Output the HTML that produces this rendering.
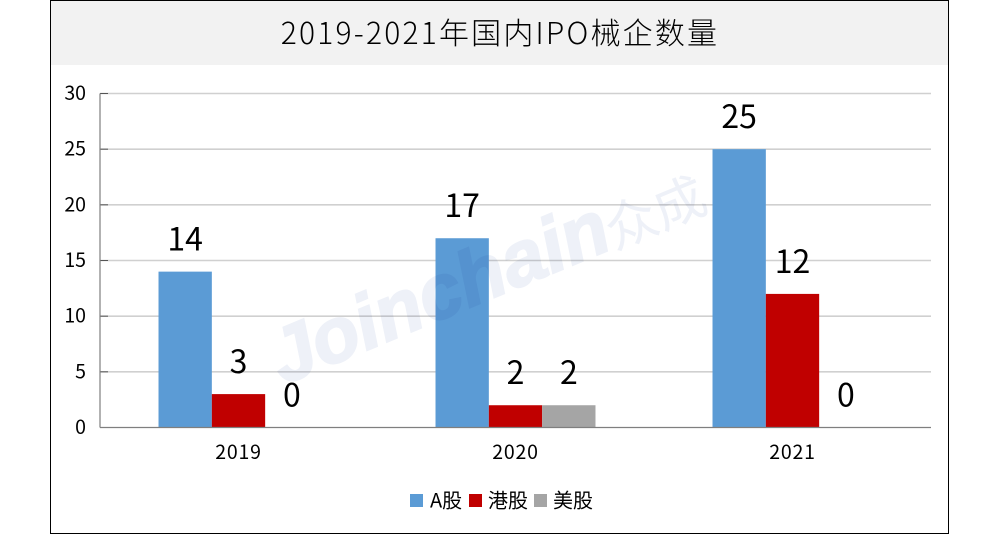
<!DOCTYPE html>
<html lang="zh">
<head>
<meta charset="utf-8">
<title>2019-2021年国内IPO械企数量</title>
<style>
html,body{margin:0;padding:0;background:#fff;width:1000px;height:534px;overflow:hidden}
svg{display:block}
text{font-family:"Noto Sans CJK SC","Liberation Sans",sans-serif;fill:#000}
</style>
</head>
<body>
<svg id="chart" width="1000" height="534" viewBox="0 0 1000 534" xmlns="http://www.w3.org/2000/svg">
  <rect x="50.5" y="0.5" width="898" height="533" fill="#fff" stroke="#000"/>
  <rect x="51" y="1" width="897" height="64" fill="#f2f2f2"/>
  <text x="500" y="44" text-anchor="middle" font-size="30" letter-spacing="2.2" font-weight="300" fill="#1a1a1a">2019-2021年国内IPO械企数量</text>
  <g id="grid"></g>
  <g id="bars"></g>
  <g id="labels"></g>
  <g id="axes"></g>
  <g id="legend"></g>
  <g transform="translate(283,385) rotate(-22.5)" style="mix-blend-mode:multiply">
    <text x="0" y="0" font-size="77" font-weight="bold" font-style="italic" style="font-family:'Liberation Sans',sans-serif;fill:#eef1f8;stroke:#eef1f8;stroke-width:2">Joinchain</text>
    <text x="341" y="0" font-size="13" style="font-family:'Liberation Sans',sans-serif;fill:#eef1f8">®</text>
    <text x="358" y="2" font-size="52" style="font-family:'Noto Sans CJK SC',sans-serif;fill:#eef1f8">众成</text>
  </g>
</svg>
<script>
const categories = ['2019', '2020', '2021'];
const seriesNames = ['A股', '港股', '美股'];
const seriesA = [14, 17, 25];
const seriesHK = [3, 2, 12];
const seriesUS = [0, 2, 0];
const yTicks = [0, 5, 10, 15, 20, 25, 30];

const seriesValues = [seriesA, seriesHK, seriesUS];
const seriesColors = ['#5b9bd5', '#c00000', '#a5a5a5'];
const seriesKeys = ['a-share', 'hk-share', 'us-share'];
const NS = 'http://www.w3.org/2000/svg';
const plot = {left: 100, right: 931, top: 93.5, bottom: 427.5};
const yMax = yTicks[yTicks.length - 1];
const bandWidth = (plot.right - plot.left) / categories.length;
const barWidth = bandWidth * 0.1925;
function yScale(v) { return plot.bottom - (v / yMax) * (plot.bottom - plot.top); }
function xCenter(i) { return plot.left + bandWidth * (i + 0.5); }
function xBar(i, s) { return xCenter(i) - barWidth * 1.5 + barWidth * s; }
function make(parentId, tag, attrs, text) {
  const el = document.createElementNS(NS, tag);
  for (const k in attrs) { el.setAttribute(k, attrs[k]); }
  if (text !== undefined) { el.textContent = text; }
  document.getElementById(parentId).appendChild(el);
  return el;
}
yTicks.forEach(function (t) {
  const y = yScale(t);
  if (t > 0) {
    const line = make('grid', 'line', {x1: plot.left, x2: plot.right, y1: y, y2: y, stroke: '#d0d0d0', 'stroke-width': 1.6});
    
    
  }
  const tick = make('axes', 'line', {x1: plot.left, x2: plot.left + 8, y1: y, y2: y, stroke: '#555', 'stroke-width': 1});
  
  
  const label = make('axes', 'text', {x: 86, y: y + 6.5, 'text-anchor': 'end', 'font-size': 19.5}, String(t));
  
  
});
const yAxis = make('axes', 'line', {x1: plot.left, x2: plot.left, y1: plot.top, y2: plot.bottom, stroke: '#7f7f7f', 'stroke-width': 1.2});


const xAxis = make('axes', 'line', {x1: plot.left, x2: plot.right, y1: plot.bottom, y2: plot.bottom, stroke: '#7f7f7f', 'stroke-width': 1.2});


categories.forEach(function (c, i) {
  const label = make('axes', 'text', {x: xCenter(i), y: 459, 'text-anchor': 'middle', 'font-size': 19.5, 'letter-spacing': 0.8}, c);
  
  
  seriesValues.forEach(function (vals, s) {
    const v = vals[i];
    const x = xBar(i, s);
    const y = yScale(v);
    if (v > 0) {
      const bar = make('bars', 'rect', {x: x, y: y, width: barWidth, height: plot.bottom - y, fill: seriesColors[s]});
      
      
    }
    const val = make('labels', 'text', {x: x + barWidth / 2, y: y - 21, 'text-anchor': 'middle', 'font-size': 32}, String(v));
    
    
  });
});
const legendSwatchX = [410, 469, 534];
const legendTextX = [430, 488, 553];
seriesNames.forEach(function (name, s) {
  const sw = make('legend', 'rect', {x: legendSwatchX[s], y: 494, width: 13, height: 13, fill: seriesColors[s]});
  
  
  const label = make('legend', 'text', {x: legendTextX[s], y: 507.5, 'font-size': 20}, name);
  
  
});
</script>
</body>
</html>
